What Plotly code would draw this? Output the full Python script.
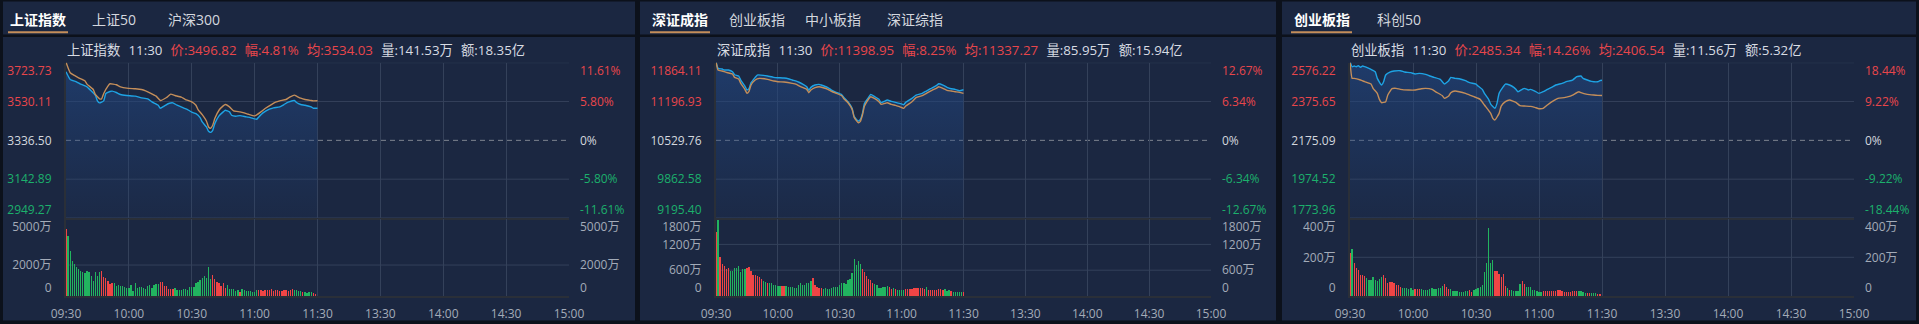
import plotly.graph_objects as go

W, H = 1919, 324

# ---------------- data ----------------
TIME_TICKS = [0, 30, 60, 90, 120, 150, 180, 210, 240]
TIME_LABELS = ['09:30', '10:00', '10:30', '11:00', '11:30', '13:30', '14:00', '14:30', '15:00']

# panel 1 : 上证指数
p1_tabs = ['上证指数', '上证50', '沪深300']
p1_info = dict(name='上证指数', time='11:30', price='3496.82', pct='4.81%', avg='3534.03', vol='141.53万', amt='18.35亿')
p1_axis = [3723.73, 3530.11, 3336.50, 3142.89, 2949.27]
p1_pct = ['11.61%', '5.80%', '0%', '-5.80%', '-11.61%']
p1_vol_ticks = [5000, 2000, 0]
p1_vol_labels = ['5000万', '2000万', '0']
p1_price_t = [0, 2, 5, 7, 10, 12, 14, 15, 16, 18, 19, 21, 22, 24, 26, 29, 33, 36, 39, 41,
              44, 45, 47, 49, 51, 53, 56, 58, 60, 62, 64, 65, 67, 68, 69, 70, 71, 73, 75, 76,
              78, 79, 81, 83, 86, 88, 91, 92, 94, 97, 99, 102, 104, 106, 109, 110, 112, 114, 117, 118, 120]
p1_price = [3678.7, 3640.3, 3628.6, 3616.9, 3603.6, 3583.5, 3561.8, 3533.5, 3523.4, 3533.5,
            3570.2, 3580.2, 3581.9, 3575.2, 3565.2, 3560.2, 3556.8, 3548.5, 3543.5, 3528.5,
            3511.8, 3496.7, 3508.4, 3520.1, 3523.4, 3511.8, 3498.4, 3490.1, 3476.7, 3470.0,
            3450.0, 3428.3, 3403.3, 3381.5, 3376.5, 3386.6, 3420.0, 3458.4, 3478.4, 3486.7,
            3478.4, 3461.7, 3456.7, 3460.0, 3453.3, 3450.0, 3441.7, 3453.3, 3473.4, 3491.7,
            3498.4, 3503.4, 3515.1, 3526.8, 3535.1, 3525.1, 3515.1, 3511.8, 3503.4, 3496.7, 3496.82]
p1_avg_t = [0, 2, 4, 6, 9, 10, 13, 14, 16, 17, 18, 20, 21, 24, 26, 29, 33, 36, 38, 40,
            43, 45, 48, 50, 52, 55, 57, 60, 62, 63, 65, 67, 68, 69, 70, 71, 73, 75, 76, 78,
            80, 83, 85, 87, 90, 91, 93, 95, 98, 100, 102, 105, 107, 109, 110, 112, 114, 117, 118, 120]
p1_avg = [3726.0, 3673.7, 3660.3, 3648.6, 3633.6, 3616.9, 3590.2, 3565.2, 3543.5, 3543.5,
          3570.2, 3606.9, 3618.6, 3613.6, 3603.6, 3596.9, 3593.6, 3590.2, 3583.5, 3573.5,
          3556.8, 3535.1, 3550.1, 3566.8, 3560.2, 3551.8, 3540.1, 3528.5, 3511.8, 3490.1,
          3465.0, 3433.3, 3403.3, 3396.6, 3411.6, 3445.0, 3486.7, 3508.4, 3515.1, 3503.4,
          3483.4, 3478.4, 3473.4, 3466.7, 3458.4, 3463.4, 3478.4, 3495.1, 3515.1, 3526.8,
          3533.5, 3540.1, 3553.5, 3561.8, 3556.8, 3546.8, 3540.1, 3535.1, 3533.5, 3534.03]
p1_vol = [4311, 3882, 2896, 2252, 2059, 1888, 1737, 1587, 1544, 1459,
          1630, 1544, 1287, 987, 1544, 1287, 1523, 1609, 1244, 1137,
          965, 794, 815, 815, 665, 686, 644, 622, 579, 515,
          493, 686, 322, 815, 515, 601, 558, 493, 472, 644,
          729, 515, 729, 772, 794, 922, 922, 665, 622, 450,
          450, 429, 515, 386, 386, 407, 450, 450, 407, 579,
          579, 579, 836, 879, 1008, 1158, 1287, 1137, 1866, 1094,
          1351, 1094, 922, 815, 644, 836, 536, 708, 450, 429,
          450, 322, 365, 279, 450, 386, 343, 300, 322, 279,
          279, 386, 365, 365, 343, 386, 365, 386, 472, 343,
          365, 407, 322, 300, 386, 365, 343, 365, 429, 386,
          365, 343, 343, 257, 236, 215, 236, 236, 172, 150]
p1_dir = ("rggggggggg" "gggggggrrr" "rrrggggggg" "gggggggggg" "gggggrrrrr" "rrgggggggg"
          "gggggggggg" "rrrrrrrggg" "gggrgggggg" "ggrrrrrrrr" "rrrrrrrrrg" "gggrggggrr")

# panel 2 : 深证成指
p2_tabs = ['深证成指', '创业板指', '中小板指', '深证综指']
p2_info = dict(name='深证成指', time='11:30', price='11398.95', pct='8.25%', avg='11337.27', vol='85.95万', amt='15.94亿')
p2_axis = [11864.11, 11196.93, 10529.76, 9862.58, 9195.40]
p2_pct = ['12.67%', '6.34%', '0%', '-6.34%', '-12.67%']
p2_vol_ticks = [1800, 1200, 600, 0]
p2_vol_labels = ['1800万', '1200万', '600万', '0']
p2_price_t = [0, 1, 3, 4, 6, 8, 9, 11, 12, 14, 15, 16, 17, 19, 20, 23, 25, 28, 30, 33,
              35, 37, 40, 42, 44, 45, 46, 48, 50, 51, 54, 56, 58, 61, 62, 64, 66, 67, 69, 70,
              71, 72, 74, 75, 77, 79, 80, 82, 83, 85, 87, 89, 91, 92, 95, 97, 100, 102, 104, 107,
              108, 110, 112, 114, 116, 118, 120]
p2_price = [11880.0, 11766.8, 11755.3, 11738.1, 11738.1, 11709.5, 11657.9, 11635.0, 11566.3, 11463.2,
            11394.5, 11417.4, 11520.5, 11612.1, 11652.2, 11646.5, 11635.0, 11612.1, 11606.4, 11600.7,
            11589.2, 11566.3, 11532.1, 11497.6, 11451.8, 11389.0, 11440.3, 11480.4, 11491.9, 11480.4,
            11440.3, 11394.5, 11360.1, 11314.3, 11268.5, 11194.0, 11079.5, 10936.3, 10861.9, 10890.5,
            10993.6, 11165.4, 11268.5, 11320.0, 11280.0, 11234.1, 11176.9, 11205.5, 11222.7, 11199.8,
            11182.6, 11165.4, 11142.5, 11182.6, 11251.3, 11308.6, 11337.2, 11377.3, 11417.4, 11474.7,
            11503.3, 11480.4, 11440.3, 11417.4, 11405.9, 11383.0, 11398.95]
p2_avg_t = [0, 1, 3, 5, 8, 9, 11, 12, 14, 15, 16, 17, 19, 21, 25, 28, 30, 33, 37, 39,
            41, 44, 45, 46, 48, 50, 54, 56, 58, 61, 62, 64, 66, 67, 69, 70, 71, 72, 74, 75,
            77, 79, 80, 82, 83, 85, 87, 89, 91, 92, 95, 97, 100, 102, 104, 107, 108, 110, 112, 114,
            116, 118, 120]
p2_avg = [11880.0, 11738.1, 11720.9, 11698.0, 11669.4, 11612.1, 11583.5, 11509.0, 11405.9, 11337.2,
          11371.6, 11480.4, 11566.3, 11594.9, 11577.8, 11549.1, 11537.7, 11531.9, 11509.0, 11491.9,
          11451.8, 11405.9, 11348.7, 11394.5, 11434.6, 11451.8, 11411.7, 11371.6, 11343.0, 11297.1,
          11245.6, 11176.9, 11062.3, 10924.9, 10833.3, 10856.2, 10965.0, 11119.6, 11239.9, 11280.0,
          11245.6, 11194.0, 11148.2, 11165.4, 11176.9, 11148.2, 11131.0, 11108.1, 11079.5, 11119.6,
          11194.0, 11262.8, 11297.1, 11337.2, 11377.3, 11428.8, 11451.8, 11423.1, 11388.8, 11377.3,
          11365.9, 11354.4, 11337.27]
p2_vol = [1483, 1777, 912, 742, 688, 618, 657, 587, 587, 641,
          641, 703, 564, 618, 626, 641, 680, 579, 494, 487,
          464, 433, 394, 348, 317, 309, 294, 294, 263, 255,
          239, 239, 224, 232, 224, 216, 216, 201, 185, 193,
          255, 301, 247, 263, 294, 309, 348, 409, 255, 216,
          185, 185, 162, 193, 162, 162, 185, 201, 201, 216,
          263, 294, 301, 278, 363, 394, 525, 850, 726, 811,
          734, 626, 556, 464, 402, 371, 309, 278, 255, 193,
          193, 201, 216, 232, 201, 170, 178, 154, 147, 139,
          131, 147, 154, 154, 154, 162, 178, 185, 185, 178,
          185, 154, 201, 139, 139, 139, 139, 147, 154, 154,
          147, 154, 124, 139, 108, 85, 93, 93, 100, 93, 93]
p2_dir = ("rgrrrrrggg" "gggggrrrrr" "rrrggrgggg" "ggrrgggggg" "gggggggrrr" "rrgggggggg"
          "gggggggggg" "grrrrrrggg" "ggggrrgrgg" "ggrrrrrrrr" "rrgrrrrrrr" "rgggrgggggr")

# panel 3 : 创业板指
p3_tabs = ['创业板指', '科创50']
p3_info = dict(name='创业板指', time='11:30', price='2485.34', pct='14.26%', avg='2406.54', vol='11.56万', amt='5.32亿')
p3_axis = [2576.22, 2375.65, 2175.09, 1974.52, 1773.96]
p3_pct = ['18.44%', '9.22%', '0%', '-9.22%', '-18.44%']
p3_vol_ticks = [400, 200, 0]
p3_vol_labels = ['400万', '200万', '0']
p3_price_t = [0, 1, 2, 3, 4, 5, 6, 7, 9, 10, 12, 13, 15, 16, 17, 19, 21, 24, 26, 29,
              31, 33, 36, 38, 40, 43, 45, 47, 48, 50, 52, 55, 57, 60, 61, 63, 64, 66, 67, 69,
              70, 71, 73, 74, 76, 78, 79, 80, 82, 83, 85, 86, 88, 90, 92, 94, 96, 98, 101, 103,
              106, 108, 110, 111, 113, 115, 118, 119, 120]
p3_price = [2581.4, 2555.6, 2559.0, 2555.6, 2560.7, 2552.1, 2559.0, 2555.6, 2546.9, 2541.8,
            2529.7, 2495.3, 2460.9, 2478.1, 2512.5, 2528.0, 2533.2, 2534.9, 2528.0, 2524.6,
            2517.7, 2521.1, 2516.0, 2507.4, 2500.5, 2490.1, 2466.0, 2483.3, 2500.5, 2495.3,
            2493.6, 2483.3, 2473.0, 2466.0, 2455.7, 2438.5, 2417.8, 2386.8, 2362.7, 2340.3,
            2366.2, 2417.8, 2452.3, 2466.0, 2460.9, 2448.8, 2438.5, 2426.4, 2438.5, 2443.7,
            2435.0, 2438.5, 2429.9, 2417.8, 2426.4, 2438.5, 2448.8, 2460.9, 2469.5, 2478.1,
            2486.7, 2503.9, 2507.4, 2495.3, 2486.7, 2479.8, 2478.1, 2483.3, 2485.34]
p3_avg_t = [0, 1, 2, 5, 7, 10, 11, 13, 14, 15, 17, 18, 20, 22, 24, 28, 31, 34, 36, 39,
            41, 44, 45, 47, 48, 50, 52, 55, 57, 59, 62, 64, 67, 68, 69, 71, 72, 74, 76, 79,
            81, 83, 86, 88, 90, 92, 94, 97, 99, 102, 104, 106, 109, 110, 113, 116, 118, 120]
p3_avg = [2581.4, 2495.3, 2495.3, 2486.7, 2478.1, 2466.0, 2443.7, 2417.8, 2386.8, 2369.6,
          2374.8, 2409.2, 2441.9, 2443.7, 2438.5, 2435.0, 2435.0, 2441.9, 2443.7, 2438.5,
          2424.7, 2405.8, 2392.0, 2404.1, 2421.3, 2429.9, 2426.4, 2417.8, 2409.2, 2400.6,
          2386.8, 2357.6, 2314.5, 2288.7, 2280.1, 2314.5, 2352.4, 2374.8, 2383.4, 2371.3,
          2354.1, 2352.4, 2350.7, 2345.5, 2338.6, 2340.3, 2357.6, 2379.9, 2392.0, 2395.5,
          2400.6, 2409.2, 2426.4, 2421.3, 2412.7, 2409.2, 2407.5, 2406.54]
p3_vol = [223, 242, 172, 144, 134, 108, 108, 101, 91, 82,
          82, 96, 84, 79, 88, 98, 108, 91, 69, 70,
          72, 65, 57, 55, 48, 43, 39, 39, 38, 41,
          33, 34, 34, 34, 34, 33, 31, 31, 38, 41,
          36, 38, 41, 43, 52, 62, 48, 36, 34, 27,
          26, 24, 22, 21, 22, 27, 26, 29, 21, 31,
          34, 41, 48, 58, 124, 172, 354, 170, 184, 130,
          127, 112, 98, 113, 50, 41, 33, 29, 27, 27,
          27, 62, 79, 62, 46, 48, 46, 31, 31, 24,
          21, 21, 24, 26, 26, 26, 26, 26, 26, 31,
          31, 27, 21, 21, 22, 22, 24, 26, 27, 24,
          24, 21, 15, 14, 15, 14, 14, 14, 12, 10]
p3_dir = ("rgrrrrrrgg" "ggggggrrrr" "rrrrrggggg" "grrrgggggg" "gggggrrrgg" "gggggggrrg"
          "gggggggggr" "rrrrrgrggg" "ggrrgggggg" "ggrrrrrrrr" "rrrrrrrrrg" "gggrrgggrr")

PANELS = [
    dict(tabs=p1_tabs, info=p1_info, axis=p1_axis, pct=p1_pct, vt=p1_vol_ticks, vl=p1_vol_labels,
         pt=p1_price_t, p=p1_price, at=p1_avg_t, a=p1_avg, vol=p1_vol, d=p1_dir),
    dict(tabs=p2_tabs, info=p2_info, axis=p2_axis, pct=p2_pct, vt=p2_vol_ticks, vl=p2_vol_labels,
         pt=p2_price_t, p=p2_price, at=p2_avg_t, a=p2_avg, vol=p2_vol, d=p2_dir),
    dict(tabs=p3_tabs, info=p3_info, axis=p3_axis, pct=p3_pct, vt=p3_vol_ticks, vl=p3_vol_labels,
         pt=p3_price_t, p=p3_price, at=p3_avg_t, a=p3_avg, vol=p3_vol, d=p3_dir),
]

# ---------------- layout geometry (pixels) ----------------
GEOM = [
    dict(panel=(3, 635), plot=(66, 569), tabs_x=[37.5, 114, 194], ul=(8, 68)),
    dict(panel=(640, 1276), plot=(716, 1211), tabs_x=[679.5, 756.5, 832.5, 914.5], ul=(650, 710)),
    dict(panel=(1282, 1916), plot=(1350, 1854), tabs_x=[1322, 1399], ul=(1291, 1352)),
]
PRICE_Y = (62.7, 218.0)
VOL_Y = (218.6, 296.0)

# ---------------- styles ----------------
FONT = 'Open Sans, Noto Sans CJK SC, sans-serif'
OUTER = '#0c111b'
PANEL = '#1b2741'
GRID = '#34415a'
BORDER = '#2a2f38'
DASH = '#7e848f'
BLUE = '#1ea3e4'
TAN = '#c48e5a'
UP = '#f04545'
DOWN = '#22b45f'
LBL_UP = '#e8464b'
LBL_DN = '#1cb06c'
LBL_MID = '#d3d7de'
LBL_GREY = '#a3abb8'
TXT = '#d8dce3'


def fx(px):
    return px / W


def fy(py):
    return 1 - py / H


def colored(labels, colors, shift=True):
    out = []
    n = len(labels)
    for i, (lab, c) in enumerate(zip(labels, colors)):
        s = f'<span style="color:{c}">{lab}</span>'
        if shift and i == 0:
            s = ' <br>' + s
        elif shift and i == n - 1:
            s = s + '<br> '
        out.append(s)
    return out


fig = go.Figure()
shapes = []
annotations = []
layout = {}


def aname(letter, n):
    return f'{letter}axis' if n == 1 else f'{letter}axis{n}'


def tref(letter, n):
    return letter if n == 1 else f'{letter}{n}'


price_colors = [LBL_UP, LBL_UP, LBL_MID, LBL_DN, LBL_DN]

for i, (P, G) in enumerate(zip(PANELS, GEOM)):
    xp, xv = 2 * i + 1, 2 * i + 2
    yp, ypr, yv, yvr = 4 * i + 1, 4 * i + 2, 4 * i + 3, 4 * i + 4
    dom_x = [fx(G['plot'][0]), fx(G['plot'][1])]
    top, bot = P['axis'][0], P['axis'][-1]
    vmax = P['vt'][0]

    # panel backgrounds
    shapes.append(dict(type='rect', xref='paper', yref='paper', x0=fx(G['panel'][0]), x1=fx(G['panel'][1]),
                       y0=fy(34.5), y1=fy(1.5), fillcolor=PANEL, line_width=0, layer='below'))
    shapes.append(dict(type='rect', xref='paper', yref='paper', x0=fx(G['panel'][0]), x1=fx(G['panel'][1]),
                       y0=fy(320.5), y1=fy(37), fillcolor=PANEL, line_width=0, layer='below'))
    shapes.append(dict(type='rect', xref='paper', yref='paper', x0=fx(G['ul'][0]), x1=fx(G['ul'][1]),
                       y0=fy(33.2), y1=fy(31.2), fillcolor=TAN, line_width=0, layer='above'))

    # tabs
    for j, (name, cx) in enumerate(zip(P['tabs'], G['tabs_x'])):
        annotations.append(dict(xref='paper', yref='paper', x=fx(cx), y=fy(19.5), xanchor='center', yanchor='middle',
                                text=(f'<b>{name}</b>' if j == 0 else name), showarrow=False,
                                font=dict(family=FONT, size=14, color='#ffffff' if j == 0 else '#d4d8df')))
    # info line
    info = P['info']
    sp = '\u00a0\u00a0\u200a'
    ttl = (f'<span style="color:{TXT}">{info["name"]}{sp}{info["time"]}</span>{sp}'
           f'<span style="color:{LBL_UP}">价:{info["price"]}{sp}幅:{info["pct"]}{sp}均:{info["avg"]}</span>{sp}'
           f'<span style="color:{TXT}">量:{info["vol"]}{sp}额:{info["amt"]}</span>')
    annotations.append(dict(xref='paper', yref='paper', x=fx(G['plot'][0] - 1), y=fy(49.5), xanchor='left',
                            yanchor='middle', text=ttl, showarrow=False, font=dict(family=FONT, size=13.3, color=TXT)))

    # horizontal grid for price / volume
    for k, v in enumerate(P['axis']):
        if k == 2:
            shapes.append(dict(type='line', xref=f'{tref("x", xp)} domain', yref=tref('y', yp), x0=0, x1=1, y0=v, y1=v,
                               line=dict(color=DASH, width=1, dash='5px,4px'), layer='below'))
        else:
            shapes.append(dict(type='line', xref=f'{tref("x", xp)} domain', yref=tref('y', yp), x0=0, x1=1, y0=v, y1=v,
                               line=dict(color=GRID, width=1), layer='below'))
    for v in P['vt'][1:-1]:
        shapes.append(dict(type='line', xref=f'{tref("x", xv)} domain', yref=tref('y', yv), x0=0, x1=1, y0=v, y1=v,
                           line=dict(color=GRID, width=1), layer='below'))

    # traces
    fig.add_trace(go.Scatter(x=P['pt'], y=P['p'], xaxis=tref('x', xp), yaxis=tref('y', yp), mode='lines',
                             line=dict(color=BLUE, width=1.4, shape='spline', smoothing=0.4),
                             fill='tozeroy',
                             fillgradient=dict(type='vertical', start=bot, stop=top,
                                               colorscale=[[0, 'rgba(32,66,120,0.10)'], [1, 'rgba(34,72,132,0.62)']]),
                             hoverinfo='skip', showlegend=False))
    fig.add_trace(go.Scatter(x=P['at'], y=P['a'], xaxis=tref('x', xp), yaxis=tref('y', yp), mode='lines',
                             line=dict(color=TAN, width=1.4, shape='spline', smoothing=0.4),
                             hoverinfo='skip', showlegend=False))
    fig.add_trace(go.Bar(x=list(range(len(P['vol']))), y=P['vol'], xaxis=tref('x', xv), yaxis=tref('y', yv),
                         marker=dict(color=[UP if c == 'r' else DOWN for c in P['d']], line_width=0),
                         width=0.62, hoverinfo='skip', showlegend=False))
    for ya, xa in ((ypr, xp), (yvr, xv)):
        fig.add_trace(go.Scatter(x=[None], y=[None], xaxis=tref('x', xa), yaxis=tref('y', ya),
                                 mode='lines', hoverinfo='skip', showlegend=False))

    common_x = dict(domain=dom_x, range=[0, 240], tickmode='array', tickvals=TIME_TICKS, showgrid=True,
                    gridcolor=GRID, gridwidth=1, zeroline=False, ticks='', fixedrange=True, automargin=False)
    layout[aname('x', xp)] = dict(common_x, anchor=tref('y', yp), showticklabels=False,
                                  showline=True, linecolor=BORDER, linewidth=2)
    layout[aname('x', xv)] = dict(common_x, anchor=tref('y', yv), showticklabels=True, ticktext=TIME_LABELS,
                                  tickfont=dict(family=FONT, size=12, color=LBL_GREY), ticklabelstandoff=6,
                                  showline=True, linecolor=BORDER, linewidth=2)
    common_py = dict(range=[bot, top], tickmode='array', tickvals=P['axis'], showgrid=False, zeroline=False,
                     ticks='', ticklabelstandoff=10, fixedrange=True, tickfont=dict(family=FONT, size=12),
                     automargin=False)
    layout[aname('y', yp)] = dict(common_py, domain=[fy(PRICE_Y[1]), fy(PRICE_Y[0])], anchor=tref('x', xp),
                                  ticktext=colored([f'{v:.2f}' for v in P['axis']], price_colors),
                                  showline=True, linecolor=BORDER, linewidth=2)
    layout[aname('y', ypr)] = dict(common_py, anchor=tref('x', xp), overlaying=tref('y', yp), side='right',
                                   ticktext=colored(P['pct'], price_colors), showline=False)
    common_vy = dict(range=[0, vmax], tickmode='array', tickvals=P['vt'], ticktext=colored(P['vl'], [LBL_GREY] * len(P['vl'])),
                     showgrid=False, zeroline=False, ticks='', ticklabelstandoff=10, fixedrange=True,
                     tickfont=dict(family=FONT, size=12, color=LBL_GREY), automargin=False)
    layout[aname('y', yv)] = dict(common_vy, domain=[fy(VOL_Y[1]), fy(VOL_Y[0])], anchor=tref('x', xv),
                                  showline=True, linecolor=BORDER, linewidth=2)
    layout[aname('y', yvr)] = dict(common_vy, anchor=tref('x', xv), overlaying=tref('y', yv), side='right',
                                   showline=False)

fig.update_layout(width=W, height=H, autosize=False,
                  margin=dict(l=0, r=0, t=0, b=0, pad=0, autoexpand=False),
                  paper_bgcolor=OUTER, plot_bgcolor='rgba(0,0,0,0)', showlegend=False, hovermode=False,
                  bargap=0, shapes=shapes, annotations=annotations, font=dict(family=FONT), **layout)
fig.write_html('out.html', config=dict(displayModeBar=False, staticPlot=True),
               post_script="document.body.style.margin='0';document.body.style.overflow='hidden';")
